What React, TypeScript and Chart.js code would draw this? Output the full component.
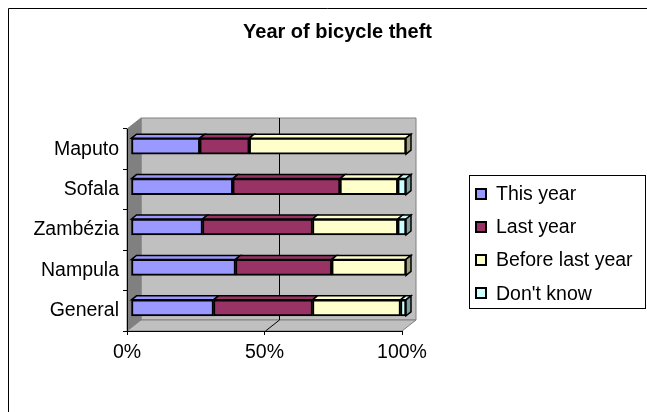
import React, { useEffect, useRef } from 'react';
import { Chart, registerables } from 'chart.js';

Chart.register(...registerables);

// ---- data ----
const chartTitle = 'Year of bicycle theft';
const categories = ['Maputo', 'Sofala', 'Zambézia', 'Nampula', 'General'];
const seriesNames = ['This year', 'Last year', 'Before last year', "Don't know"];
const thisYear = [25, 37, 26, 38, 30];
const lastYear = [18, 39, 40, 35, 36];
const beforeLastYear = [57, 21, 31, 27, 32];
const dontKnow = [0, 3, 3, 0, 2];
const seriesColors = ['#9999ff', '#993366', '#ffffcc', '#ccffff'];
const xTickLabels = ['0%', '50%', '100%'];

const FONT = '"Liberation Sans", Arial, Helvetica, sans-serif';
const WALL_DEPTH = { dx: 14, dy: -11 };
const BAR_SHIFT = { dx: 4, dy: -3 };
const BAR_DEPTH = { dx: 5, dy: -4 };

function shade(hex: string, f: number): string {
  const n = parseInt(hex.slice(1), 16);
  const r = Math.round(((n >> 16) & 255) * f);
  const g = Math.round(((n >> 8) & 255) * f);
  const b = Math.round((n & 255) * f);
  return `rgb(${r},${g},${b})`;
}

function poly(ctx: CanvasRenderingContext2D, pts: number[][], fill: string | null, stroke: string | null, lw = 1) {
  ctx.beginPath();
  ctx.moveTo(pts[0][0], pts[0][1]);
  for (let i = 1; i < pts.length; i++) ctx.lineTo(pts[i][0], pts[i][1]);
  ctx.closePath();
  if (fill) {
    ctx.fillStyle = fill;
    ctx.fill();
  }
  if (stroke) {
    ctx.strokeStyle = stroke;
    ctx.lineWidth = lw;
    ctx.stroke();
  }
}

const excel3d = {
  id: 'excel3d',
  beforeDraw(chart: any) {
    const { ctx, chartArea: a } = chart;
    ctx.save();
    ctx.fillStyle = '#ffffff';
    ctx.fillRect(0, 0, chart.width, chart.height);
    // outer frame (left and top visible)
    ctx.strokeStyle = '#000';
    ctx.lineWidth = 1;
    ctx.beginPath();
    ctx.moveTo(0.5, chart.height);
    ctx.lineTo(0.5, 0.5);
    ctx.lineTo(chart.width, 0.5);
    ctx.stroke();

    const { dx, dy } = WALL_DEPTH;
    const L = a.left, R = a.right, T = a.top, B = a.bottom;
    // back wall
    poly(ctx, [[L + dx, T + dy], [R + dx, T + dy], [R + dx, B + dy], [L + dx, B + dy]], '#c0c0c0', '#808080');
    // left wall
    poly(ctx, [[L, T], [L + dx, T + dy], [L + dx, B + dy], [L, B]], '#808080', '#808080');
    // floor
    poly(ctx, [[L, B], [R, B], [R + dx, B + dy], [L + dx, B + dy]], '#c0c0c0', '#808080');

    // gridlines on the back wall and floor
    const xs = chart.scales.x;
    ctx.strokeStyle = '#000';
    ctx.lineWidth = 1;
    xs.ticks.forEach((t: any) => {
      const px = Math.round(xs.getPixelForValue(t.value));
      if (px <= L + 1 || px >= R - 1) return;
      ctx.beginPath();
      ctx.moveTo(px + dx + 0.5, T + dy);
      ctx.lineTo(px + dx + 0.5, B + dy);
      ctx.moveTo(px + 0.5, B);
      ctx.lineTo(px + dx + 0.5, B + dy);
      ctx.stroke();
    });
    ctx.restore();
  },
  beforeDatasetsDraw(chart: any) {
    const { ctx } = chart;
    ctx.save();
    ctx.translate(BAR_SHIFT.dx, BAR_SHIFT.dy);
    const { dx, dy } = BAR_DEPTH;
    const lastSeg: any[] = [];
    chart.data.datasets.forEach((ds: any, d: number) => {
      const meta = chart.getDatasetMeta(d);
      meta.data.forEach((bar: any, i: number) => {
        const v = ds.data[i];
        if (!v) return;
        const { x, y, base, height } = bar.getProps(['x', 'y', 'base', 'height'], true);
        const left = Math.min(x, base), right = Math.max(x, base);
        const top = y - height / 2, bottom = y + height / 2;
        poly(ctx, [[left, top], [left + dx, top + dy], [right + dx, top + dy], [right, top]], ds.backgroundColor, '#000', 1.5);
        if (!lastSeg[i] || right > lastSeg[i].right) lastSeg[i] = { right, top, bottom, color: ds.backgroundColor };
      });
    });
    lastSeg.forEach((s) => {
      if (!s) return;
      poly(ctx, [[s.right, s.top], [s.right + dx, s.top + dy], [s.right + dx, s.bottom + dy], [s.right, s.bottom]], shade(s.color, 0.62), '#000', 1.5);
    });
  },
  afterDatasetsDraw(chart: any) {
    chart.ctx.restore();
  },
  afterDraw(chart: any) {
    const { ctx } = chart;
    ctx.save();
    // title
    ctx.fillStyle = '#000';
    ctx.font = `bold 20px ${FONT}`;
    ctx.textAlign = 'center';
    ctx.textBaseline = 'middle';
    ctx.fillText(chartTitle, 329.5, 24);

    // legend
    const bx = 461, by = 167, bw = 176, bh = 133;
    ctx.strokeStyle = '#000';
    ctx.lineWidth = 1;
    ctx.strokeRect(bx + 0.5, by + 0.5, bw, bh);
    ctx.font = `19.5px ${FONT}`;
    ctx.textAlign = 'left';
    ctx.textBaseline = 'middle';
    chart.data.datasets.forEach((ds: any, d: number) => {
      const cy = 185.5 + d * 33.3;
      ctx.fillStyle = '#000';
      ctx.fillRect(467, Math.round(cy - 6), 12, 12);
      ctx.fillStyle = ds.backgroundColor;
      ctx.fillRect(469, Math.round(cy - 4), 8, 8);
      ctx.fillStyle = '#000';
      ctx.fillText(ds.label, 488, cy + 1);
    });
    ctx.restore();
  },
};

export default function App() {
  const ref = useRef<HTMLCanvasElement | null>(null);
  useEffect(() => {
    document.documentElement.style.overflow = 'hidden';
    document.body.style.marginRight = '0px';
    const root = document.getElementById('root');
    if (root) root.style.width = '639px';
    const canvas = ref.current;
    if (!canvas) return;
    const seriesValues = [thisYear, lastYear, beforeLastYear, dontKnow];
    const chart = new Chart(canvas, {
      type: 'bar',
      data: {
        labels: categories,
        datasets: seriesNames.map((name, k) => ({
          label: name,
          data: seriesValues[k],
          backgroundColor: seriesColors[k],
          borderColor: '#000',
          borderWidth: 2,
          borderSkipped: false,
          barThickness: 16,
          clip: false as any,
        })),
      },
      options: {
        indexAxis: 'y',
        animation: false,
        responsive: false,
        devicePixelRatio: 1,
        layout: { padding: { left: 0, top: 121, right: 245, bottom: 41 } },
        plugins: {
          legend: { display: false },
          title: { display: false },
          tooltip: { enabled: false },
        },
        scales: {
          x: {
            stacked: true,
            min: 0,
            max: 100,
            afterFit: (s: any) => { s.height = 40; },
            ticks: {
              stepSize: 50,
              padding: 6,
              color: '#000',
              font: { family: FONT, size: 19.5 },
              callback: (_v: any, i: number) => xTickLabels[i],
              maxRotation: 0,
            },
            grid: { drawOnChartArea: false, drawTicks: true, tickLength: 4, color: '#000' },
            border: { display: true, color: '#000', width: 1 },
          },
          y: {
            stacked: true,
            afterFit: (s: any) => { s.width = 119; },
            ticks: {
              padding: 4,
              color: '#000',
              font: { family: FONT, size: 19.5 },
            },
            grid: { drawOnChartArea: false, drawTicks: true, tickLength: 4, color: '#000', offset: true },
            border: { display: true, color: '#000', width: 1 },
          },
        },
      } as any,
      plugins: [excel3d],
    });
    return () => chart.destroy();
  }, []);
  return (
    <div style={{ width: 639, height: 404 }}>
      <canvas ref={ref} width={639} height={404} style={{ display: 'block', width: 639, height: 404 }} />
    </div>
  );
}
